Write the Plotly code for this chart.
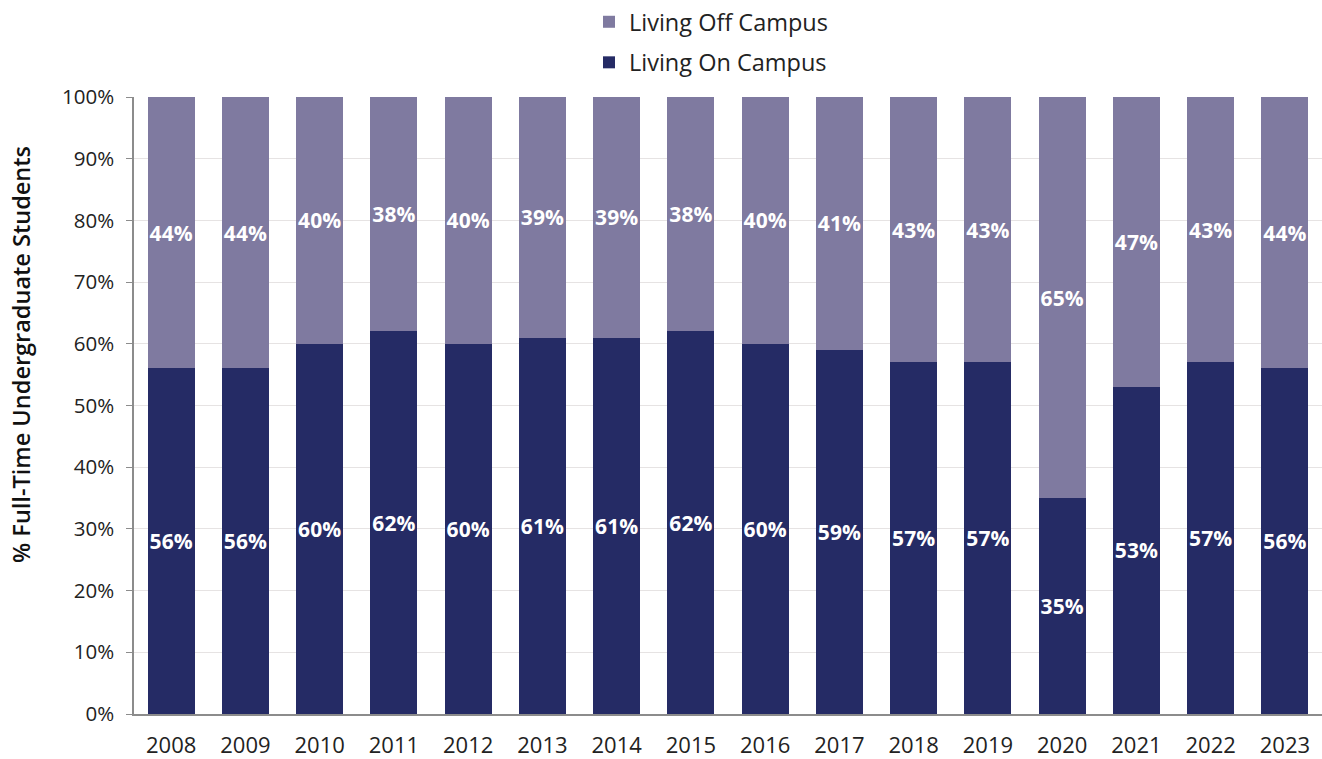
import plotly.graph_objects as go

years = ["2008", "2009", "2010", "2011", "2012", "2013", "2014", "2015",
         "2016", "2017", "2018", "2019", "2020", "2021", "2022", "2023"]
on_campus = [56, 56, 60, 62, 60, 61, 61, 62, 60, 59, 57, 57, 35, 53, 57, 56]
off_campus = [44, 44, 40, 38, 40, 39, 39, 38, 40, 41, 43, 43, 65, 47, 43, 44]

y_ticks = [0, 10, 20, 30, 40, 50, 60, 70, 80, 90, 100]

DARK = "#252B65"
LIGHT = "#7F7AA0"
FONT = "Open Sans"

fig = go.Figure()

for name, vals, color, group, rank in [
    ("Living On Campus", on_campus, DARK, "on", 2),
    ("Living Off Campus", off_campus, LIGHT, "off", 1),
]:
    fig.add_trace(go.Bar(
        x=years, y=vals, name=name, legendgroup=group, legendrank=rank,
        marker=dict(color=color, line=dict(width=0)),
        text=[f"{v}%" for v in vals],
        textposition="inside", insidetextanchor="middle", textangle=0,
        textfont=dict(family=FONT, size=21, color="white", weight="bold"),
        constraintext="none",
    ))

fig.add_annotation(
    text="% Full-Time Undergraduate Students",
    xref="paper", yref="paper", x=-0.095, y=0.582,
    xanchor="center", yanchor="middle", textangle=-90, showarrow=False,
    font=dict(family=FONT, size=23.5, color="#111111", weight=600),
)

fig.update_layout(
    barmode="stack",
    bargap=0.37,
    width=1322, height=759,
    margin=dict(l=134, r=0, t=97, b=45, autoexpand=False),
    paper_bgcolor="white", plot_bgcolor="white",
    font=dict(family=FONT, color="#222222"),
    showlegend=True,
    legend=dict(
        orientation="v", xref="paper", x=0.383, xanchor="left",
        yref="container", y=1.003, yanchor="top",
        traceorder="grouped", tracegroupgap=7,
        font=dict(family=FONT, size=23.5, color="#222222"),
        itemwidth=30,
    ),
    xaxis=dict(
        type="category",
        tickfont=dict(family=FONT, size=22, color="#222222"),
        showline=True, linecolor="#8c8c8c", linewidth=1.5,
        ticks="", showgrid=False, ticklabelstandoff=11, tickangle=0,
    ),
    yaxis=dict(
        range=[0, 100], tickvals=y_ticks, ticktext=[f"{v}%" for v in y_ticks],
        tickfont=dict(family=FONT, size=20.5, color="#222222"),
        showgrid=True, gridcolor="#e6e3e3", gridwidth=1,
        showline=True, linecolor="#8c8c8c", linewidth=1.5,
        ticks="outside", ticklen=6, tickcolor="#8c8c8c",
        ticklabelstandoff=8,
        zeroline=False,
    ),
)

fig.write_html("out.html")
